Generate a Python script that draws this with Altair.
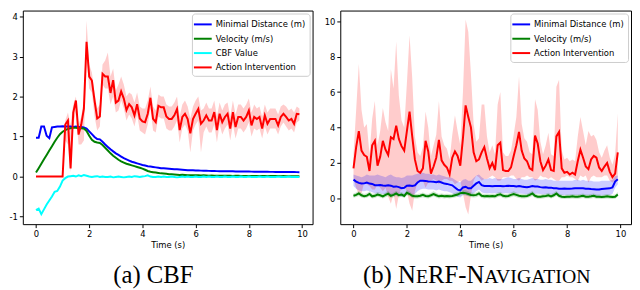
import altair as alt
import numpy as np
import pandas as pd

# ---------------- data ----------------
time = [round(i * 0.1, 1) for i in range(100)]

# (a) CBF
a_dist = [0.97, 0.97, 1.25, 1.25, 1.02, 0.96, 1.23, 1.24, 1.25, 1.25,
          1.26, 1.25, 1.25, 1.25, 1.24, 1.25, 1.24, 1.24, 1.23, 1.20,
          1.13, 1.06, 0.99, 0.94, 0.93, 0.87, 0.80, 0.74, 0.68, 0.63,
          0.58, 0.54, 0.50, 0.46, 0.43, 0.40, 0.37, 0.35, 0.33, 0.31,
          0.29, 0.275, 0.26, 0.25, 0.24, 0.23, 0.22, 0.21, 0.205, 0.20,
          0.195, 0.19, 0.185, 0.18, 0.175, 0.17, 0.165, 0.16, 0.158, 0.155,
          0.152, 0.15, 0.148, 0.146, 0.144, 0.142, 0.14, 0.138, 0.136, 0.135,
          0.134, 0.133, 0.132, 0.131, 0.13, 0.129, 0.128, 0.127, 0.126, 0.125,
          0.124, 0.123, 0.122, 0.121, 0.12, 0.12, 0.119, 0.118, 0.117, 0.117,
          0.116, 0.115, 0.115, 0.114, 0.113, 0.113, 0.112, 0.112, 0.111, 0.11]
a_vel = [0.10, 0.21, 0.32, 0.43, 0.54, 0.65, 0.76, 0.87, 0.97, 1.06,
         1.12, 1.16, 1.19, 1.21, 1.22, 1.22, 1.21, 1.21, 1.20, 1.14,
         1.02, 0.92, 0.87, 0.85, 0.84, 0.79, 0.72, 0.65, 0.58, 0.52,
         0.47, 0.42, 0.38, 0.35, 0.32, 0.30, 0.28, 0.26, 0.24, 0.22,
         0.20, 0.17, 0.14, 0.12, 0.11, 0.10, 0.09, 0.08, 0.075, 0.07,
         0.06, 0.055, 0.05, 0.045, 0.04, 0.045, 0.04, 0.035, 0.03, 0.035,
         0.03, 0.03, 0.025, 0.03, 0.025, 0.02, 0.025, 0.02, 0.02, 0.022,
         0.02, 0.018, 0.02, 0.018, 0.017, 0.02, 0.018, 0.016, 0.017, 0.015,
         0.016, 0.015, 0.014, 0.016, 0.014, 0.013, 0.014, 0.013, 0.012, 0.013,
         0.012, 0.012, 0.011, 0.012, 0.011, 0.01, 0.011, 0.01, 0.01, 0.01]
a_cbf = [-0.84, -0.80, -0.94, -0.82, -0.70, -0.60, -0.50, -0.38, -0.36, -0.25,
         -0.10, -0.04, 0.0, 0.01, 0.02, 0.0, 0.03, 0.01, 0.04, 0.02,
         0.0, -0.01, 0.0, 0.01, -0.01, 0.0, -0.01, -0.01, 0.0, -0.02,
         -0.01, 0.0, -0.01, -0.02, -0.01, 0.0, -0.01, 0.01, 0.0, -0.01,
         0.0, 0.01, 0.03, 0.0, -0.01, -0.01, 0.0, -0.01, 0.0, -0.01,
         -0.01, 0.0, -0.01, -0.02, -0.01, 0.0, -0.01, 0.0, -0.01, -0.01,
         0.0, -0.01, -0.01, 0.0, -0.01, 0.0, -0.01, -0.01, 0.0, -0.01,
         -0.01, 0.0, -0.01, -0.01, 0.0, -0.01, -0.01, 0.0, -0.01, -0.01,
         0.0, -0.01, -0.01, -0.01, 0.0, -0.01, -0.01, 0.0, -0.01, -0.01,
         -0.01, 0.0, -0.01, -0.01, -0.01, 0.0, -0.01, -0.01, -0.01, -0.01]
a_act = [0, 0, 0, 0, 0, 0, 0, 0, 0, 0,
         0, 1.30, 1.40, 0.20, 1.60, 1.90, 1.05, 1.30, 1.70, 3.37,
         2.50, 2.40, 1.90, 1.45, 1.50, 2.57, 2.50, 2.50, 2.09, 2.41,
         1.85, 1.90, 2.13, 1.95, 1.66, 1.81, 1.73, 1.53, 1.81, 1.45,
         1.38, 1.36, 1.57, 1.97, 1.44, 1.36, 1.77, 1.73, 1.73, 1.50,
         1.44, 1.44, 1.53, 1.69, 1.16, 1.49, 1.57, 1.44, 1.08, 1.44,
         1.57, 1.69, 1.32, 1.40, 1.53, 1.40, 1.40, 1.61, 1.16, 1.57,
         1.36, 1.49, 1.57, 1.20, 1.61, 1.24, 1.49, 1.49, 1.40, 1.49,
         1.65, 1.28, 1.49, 1.44, 1.49, 1.20, 1.53, 1.32, 1.44, 1.44,
         1.44, 1.28, 1.49, 1.57, 1.49, 1.40, 1.44, 1.32, 1.57, 1.56]
a_act_hi = [0, 0, 0, 0, 0, 0, 0, 0, 0, 0,
            0, 1.40, 1.60, 1.30, 1.80, 2.00, 1.30, 1.50, 1.90, 3.90,
            2.80, 2.60, 2.10, 1.70, 1.80, 2.80, 2.90, 3.10, 2.50, 2.70,
            2.15, 2.30, 2.50, 2.30, 2.00, 2.10, 2.05, 1.85, 2.10, 1.75,
            1.70, 1.70, 1.90, 2.25, 1.75, 1.65, 2.05, 2.00, 2.00, 1.80,
            1.75, 1.75, 1.85, 2.00, 1.50, 1.80, 1.90, 1.75, 1.45, 1.75,
            1.90, 2.00, 1.65, 1.70, 1.85, 1.70, 1.70, 1.90, 1.50, 1.85,
            1.65, 1.80, 1.85, 1.50, 1.90, 1.55, 1.80, 1.80, 1.70, 1.80,
            1.95, 1.60, 1.80, 1.70, 1.75, 1.50, 1.80, 1.60, 1.70, 1.70,
            1.70, 1.55, 1.75, 1.80, 1.75, 1.65, 1.70, 1.60, 1.75, 1.70]
a_act_lo = [0, 0, 0, 0, 0, 0, 0, 0, 0, 0,
            0, 0.90, 0.80, 0.10, 1.30, 1.60, 0.80, 0.80, 0.90, 3.00,
            2.20, 2.10, 1.50, 1.15, 1.25, 2.30, 2.20, 2.20, 1.80, 2.00,
            1.60, 1.65, 1.90, 1.70, 1.40, 1.55, 1.45, 1.25, 1.55, 1.15,
            1.10, 1.05, 1.30, 1.70, 1.15, 1.10, 1.50, 1.45, 1.45, 1.20,
            1.15, 1.15, 1.25, 1.40, 0.85, 1.20, 1.30, 1.15, 0.60, 1.15,
            1.30, 1.40, 0.60, 1.10, 1.25, 1.10, 1.10, 1.30, 0.85, 1.30,
            1.05, 1.20, 1.30, 0.90, 1.30, 0.95, 1.20, 1.20, 1.10, 1.20,
            1.35, 1.00, 1.20, 1.15, 1.20, 0.95, 1.25, 1.05, 1.20, 1.20,
            1.20, 1.05, 1.25, 1.35, 1.25, 1.15, 1.20, 1.10, 1.35, 1.40]

# (b) NeRF-Navigation
b_dist = [1.06, 0.95, 0.88, 0.84, 0.85, 0.90, 0.84, 0.82, 0.75, 0.74,
          0.76, 0.73, 0.72, 0.74, 0.72, 0.66, 0.68, 0.64, 0.58, 0.60,
          0.72, 0.73, 0.70, 0.74, 0.90, 1.00, 1.00, 0.99, 0.96, 0.95,
          0.94, 0.92, 0.95, 0.90, 0.84, 0.82, 0.78, 0.74, 0.62, 0.50,
          0.45, 0.62, 0.66, 0.57, 0.58, 0.72, 0.85, 0.93, 0.75, 0.70,
          0.70, 0.70, 0.69, 0.70, 0.70, 0.70, 0.69, 0.70, 0.72, 0.70,
          0.70, 0.68, 0.70, 0.67, 0.65, 0.63, 0.66, 0.70, 0.68, 0.67,
          0.64, 0.62, 0.63, 0.60, 0.61, 0.58, 0.57, 0.55, 0.55, 0.56,
          0.55, 0.55, 0.56, 0.58, 0.58, 0.57, 0.58, 0.55, 0.55, 0.53,
          0.52, 0.50, 0.50, 0.53, 0.55, 0.56, 0.57, 0.62, 0.95, 1.08]
b_dist_hi = [1.35, 1.30, 1.25, 1.20, 1.25, 1.35, 1.30, 1.30, 1.30, 1.35,
             1.30, 1.25, 1.20, 1.30, 1.35, 1.25, 1.20, 1.20, 1.15, 1.20,
             1.30, 1.30, 1.30, 1.35, 1.40, 1.45, 1.45, 1.40, 1.40, 1.35,
             1.35, 1.30, 1.35, 1.30, 1.25, 1.20, 1.20, 1.15, 1.05, 0.95,
             0.90, 1.05, 1.10, 1.00, 1.00, 1.15, 1.30, 1.35, 1.20, 1.10,
             1.10, 1.15, 1.10, 1.15, 1.10, 1.10, 1.10, 1.15, 1.20, 1.15,
             1.10, 1.10, 1.15, 1.10, 1.05, 1.05, 1.10, 1.15, 1.10, 1.10,
             1.05, 1.05, 1.10, 1.05, 1.05, 1.00, 1.00, 1.00, 1.00, 1.00,
             1.00, 1.00, 1.00, 1.05, 1.05, 1.00, 1.05, 1.00, 1.00, 1.00,
             0.95, 0.95, 0.95, 1.00, 1.00, 1.00, 1.00, 1.05, 1.25, 1.30]
b_dist_lo = [0.70, 0.55, 0.45, 0.40, 0.40, 0.45, 0.40, 0.35, 0.30, 0.25,
             0.30, 0.25, 0.25, 0.25, 0.20, 0.15, 0.20, 0.15, 0.10, 0.15,
             0.25, 0.25, 0.20, 0.25, 0.40, 0.50, 0.55, 0.55, 0.50, 0.50,
             0.50, 0.45, 0.50, 0.45, 0.40, 0.40, 0.35, 0.30, 0.20, 0.10,
             0.05, 0.20, 0.20, 0.15, 0.15, 0.30, 0.40, 0.50, 0.35, 0.30,
             0.30, 0.30, 0.30, 0.30, 0.30, 0.30, 0.30, 0.30, 0.30, 0.30,
             0.30, 0.28, 0.30, 0.27, 0.25, 0.23, 0.25, 0.28, 0.27, 0.26,
             0.25, 0.23, 0.24, 0.22, 0.22, 0.20, 0.20, 0.18, 0.18, 0.19,
             0.18, 0.18, 0.19, 0.20, 0.20, 0.20, 0.20, 0.18, 0.18, 0.17,
             0.16, 0.15, 0.15, 0.17, 0.18, 0.19, 0.20, 0.25, 0.60, 0.80]
b_vel = [0.15, 0.20, 0.28, 0.18, 0.12, 0.16, 0.25, 0.12, 0.15, 0.22,
         0.18, 0.12, 0.20, 0.27, 0.15, 0.20, 0.28, 0.18, 0.22, 0.14,
         0.32, 0.25, 0.15, 0.12, 0.12, 0.15, 0.20, 0.14, 0.12, 0.18,
         0.25, 0.18, 0.12, 0.15, 0.12, 0.14, 0.12, 0.14, 0.18, 0.22,
         0.30, 0.32, 0.30, 0.25, 0.20, 0.18, 0.20, 0.28, 0.15, 0.12,
         0.14, 0.12, 0.14, 0.12, 0.20, 0.24, 0.15, 0.12, 0.14, 0.20,
         0.25, 0.20, 0.15, 0.12, 0.12, 0.14, 0.20, 0.28, 0.15, 0.10,
         0.10, 0.12, 0.14, 0.18, 0.12, 0.18, 0.28, 0.15, 0.10, 0.08,
         0.10, 0.10, 0.12, 0.10, 0.10, 0.12, 0.15, 0.10, 0.10, 0.12,
         0.15, 0.10, 0.10, 0.08, 0.10, 0.12, 0.10, 0.08, 0.10, 0.22]
b_vel_hi = [0.28, 0.34, 0.42, 0.32, 0.25, 0.30, 0.40, 0.26, 0.28, 0.36,
            0.32, 0.25, 0.34, 0.42, 0.28, 0.34, 0.44, 0.32, 0.36, 0.27,
            0.48, 0.40, 0.28, 0.25, 0.25, 0.28, 0.34, 0.27, 0.25, 0.32,
            0.40, 0.32, 0.25, 0.28, 0.25, 0.27, 0.25, 0.27, 0.32, 0.36,
            0.46, 0.48, 0.46, 0.40, 0.34, 0.32, 0.34, 0.44, 0.28, 0.25,
            0.27, 0.25, 0.27, 0.25, 0.34, 0.38, 0.28, 0.25, 0.27, 0.34,
            0.40, 0.34, 0.28, 0.25, 0.25, 0.27, 0.34, 0.44, 0.28, 0.22,
            0.22, 0.25, 0.27, 0.32, 0.25, 0.32, 0.44, 0.28, 0.22, 0.20,
            0.22, 0.22, 0.25, 0.22, 0.22, 0.25, 0.28, 0.22, 0.22, 0.25,
            0.28, 0.22, 0.22, 0.20, 0.22, 0.25, 0.22, 0.20, 0.22, 0.36]
b_vel_lo = [0.04, 0.08, 0.14, 0.06, 0.01, 0.04, 0.12, 0.00, 0.03, 0.09,
            0.06, 0.00, 0.07, 0.13, 0.03, 0.07, 0.14, 0.05, 0.09, 0.02,
            0.18, 0.12, 0.03, 0.00, 0.00, 0.03, 0.07, 0.02, 0.00, 0.05,
            0.12, 0.05, 0.00, 0.03, 0.00, 0.02, 0.00, 0.02, 0.05, 0.09,
            0.16, 0.18, 0.16, 0.12, 0.07, 0.05, 0.07, 0.14, 0.03, 0.00,
            0.02, 0.00, 0.02, 0.00, 0.07, 0.11, 0.03, 0.00, 0.02, 0.07,
            0.12, 0.07, 0.03, 0.00, 0.00, 0.02, 0.07, 0.14, 0.03, -0.01,
            -0.01, 0.00, 0.02, 0.05, 0.00, 0.05, 0.14, 0.03, -0.01, -0.03,
            -0.01, -0.01, 0.00, -0.01, -0.01, 0.00, 0.03, -0.01, -0.01, 0.00,
            0.03, -0.01, -0.01, -0.03, -0.01, 0.00, -0.01, -0.03, -0.01, 0.09]
b_act = [1.70, 2.90, 3.80, 2.70, 2.45, 2.35, 1.55, 3.00, 3.25, 1.85,
         2.35, 3.25, 2.75, 2.45, 3.45, 3.35, 4.10, 3.35, 2.95, 2.70,
         3.80, 4.90, 3.50, 2.20, 1.55, 1.45, 1.70, 3.25, 2.65, 1.40,
         1.80, 2.30, 3.30, 2.15, 1.90, 1.75, 1.35, 2.30, 2.65, 2.40,
         1.85, 3.40, 5.25, 4.60, 4.00, 2.60, 2.10, 2.20, 2.60, 2.90,
         2.25, 1.70, 2.00, 1.60, 3.00, 3.15, 1.60, 1.55, 1.55, 1.75,
         2.40, 3.00, 3.75, 2.70, 2.25, 2.10, 1.70, 1.60, 3.55, 3.10,
         2.10, 1.60, 1.85, 2.20, 1.60, 1.55, 3.50, 3.75, 1.70, 1.45,
         1.50, 1.35, 1.45, 1.35, 2.10, 2.75, 2.30, 1.80, 1.65, 2.20,
         2.40, 2.30, 1.75, 1.55, 1.80, 2.00, 1.50, 1.20, 1.40, 2.60]
b_act_hi = [2.5, 5.0, 7.6, 5.0, 4.0, 4.2, 2.5, 4.5, 5.5, 3.0,
            3.8, 5.1, 4.3, 3.8, 7.3, 6.2, 8.85, 5.8, 4.4, 4.0,
            6.5, 9.2, 6.8, 3.5, 2.6, 2.4, 2.9, 4.9, 4.0, 2.4,
            3.0, 3.6, 5.5, 3.5, 3.0, 2.8, 2.2, 3.6, 4.7, 3.8,
            3.0, 6.0, 10.1, 9.4, 7.0, 4.2, 3.2, 3.4, 5.3, 5.3,
            3.5, 2.6, 3.0, 2.5, 5.3, 6.0, 2.6, 2.4, 2.4, 2.7,
            3.6, 4.6, 6.9, 4.2, 3.4, 3.2, 2.6, 2.5, 5.6, 5.0,
            3.2, 2.5, 3.0, 3.7, 2.5, 2.4, 6.3, 6.7, 2.7, 2.2,
            2.3, 2.1, 2.2, 2.1, 3.5, 4.6, 3.8, 3.0, 3.8, 3.5,
            3.6, 3.3, 2.6, 2.3, 2.7, 3.0, 2.3, 1.9, 2.5, 4.8]
b_act_lo = [1.1, 0.6, 0.2, 0.3, 0.9, 0.8, 0.7, 0.5, 0.5, 0.8,
            0.6, 0.4, 0.6, 0.1, -0.3, 0.3, -0.6, 0.2, 0.6, 0.7,
            0.4, -0.3, -0.7, 0.4, 0.9, 1.0, 1.0, 0.6, 0.9, 1.0,
            1.1, 1.0, 0.8, 1.0, 1.1, 1.1, 1.0, 1.0, 0.8, 0.9,
            1.0, 0.3, -0.5, -0.9, 0.2, 1.0, 1.3, 1.2, 1.0, 1.1,
            1.1, 1.2, 1.3, 1.2, 1.0, 1.0, 1.2, 1.2, 1.2, 1.3,
            1.3, 1.1, 1.0, 1.2, 1.2, 1.3, 1.2, 1.2, 1.0, 1.1,
            1.3, 1.2, 1.2, 1.1, 1.2, 1.1, 1.0, 1.0, 1.2, 1.2,
            1.3, 1.2, 1.2, 1.1, 1.0, 1.3, 1.2, 1.3, 0.9, 1.2,
            1.3, 1.2, 1.2, 1.2, 1.3, 1.3, 1.0, 0.9, 1.0, 1.2]

x_ticks = [0, 2, 4, 6, 8, 10]
a_y_ticks = [-1, 0, 1, 2, 3, 4]
b_y_ticks = [0, 2, 4, 6, 8, 10]

a_series = ["Minimal Distance (m)", "Velocity (m/s)", "CBF Value", "Action Intervention"]
a_colors = ["#0000ff", "#008000", "#00ffff", "#ff0000"]
b_series = ["Minimal Distance (m)", "Velocity (m/s)", "Action Intervention"]
b_colors = ["#0000ff", "#008000", "#ff0000"]

# ---------------- tables ----------------
def long_table(series_names, arrays):
    frames = []
    for k, (name, arr) in enumerate(zip(series_names, arrays)):
        frames.append(pd.DataFrame({"t": time, "v": arr, "s": name, "o": k}))
    return pd.concat(frames, ignore_index=True)

a_lines = long_table(a_series, [a_dist, a_vel, a_cbf, a_act])
b_lines = long_table(b_series, [b_dist, b_vel, b_act])

a_band = pd.DataFrame({"t": time, "lo": a_act_lo, "hi": a_act_hi})
b_band_act = pd.DataFrame({"t": time, "lo": b_act_lo, "hi": b_act_hi})
b_band_dist = pd.DataFrame({"t": time, "lo": b_dist_lo, "hi": b_dist_hi})
b_band_vel = pd.DataFrame({"t": time, "lo": b_vel_lo, "hi": b_vel_hi})

W_A, W_B, H = 293, 294, 216
XDOM = [-0.495, 10.395]

def legend():
    return alt.Legend(title=None, orient="top-right", offset=3,
                      symbolType="M-1.5,0H1.5", symbolSize=144, symbolStrokeWidth=2,
                      labelFont="DejaVu Sans", labelFontSize=8.5, labelColor="black",
                      labelOffset=6, rowPadding=2.5,
                      fillColor="rgba(255,255,255,0.85)", strokeColor="#cccccc",
                      cornerRadius=3, padding=4)

def x_enc():
    return alt.X("t:Q", scale=alt.Scale(domain=XDOM, nice=False, zero=False),
                 axis=alt.Axis(values=x_ticks, format="d", title="Time (s)", titlePadding=3))

def band(df, color, ydom):
    return alt.Chart(df).mark_area(color=color, opacity=0.2, strokeWidth=0).encode(
        x=alt.X("t:Q", scale=alt.Scale(domain=XDOM, nice=False, zero=False)),
        y=alt.Y("lo:Q", scale=alt.Scale(domain=ydom, nice=False, zero=False)),
        y2="hi:Q",
    )

def lines(df, names, colors, ydom, yticks):
    return alt.Chart(df).mark_line(strokeWidth=2, clip=True).encode(
        x=x_enc(),
        y=alt.Y("v:Q", scale=alt.Scale(domain=ydom, nice=False, zero=False),
                axis=alt.Axis(values=yticks, format="d", title=None,
                              labelExpr="replace(datum.label, '\u2212', '-')")),
        color=alt.Color("s:N", scale=alt.Scale(domain=names, range=colors), legend=legend()),
        order="o:Q",
        detail="s:N",
    )

def cap(text, x, size, align="left"):
    return alt.Chart(pd.DataFrame({"c": [text]})).mark_text(
        font="Liberation Serif", fontSize=size, align=align, baseline="alphabetic",
        color="black").encode(text="c:N", x=alt.value(x), y=alt.value(275))

A_YDOM = [-1.19, 4.15]
B_YDOM = [-1.45, 10.6]

panel_a = alt.layer(
    band(a_band, "#ff0000", A_YDOM),
    lines(a_lines, a_series, a_colors, A_YDOM, a_y_ticks),
    cap("(a) CBF", 132, 25, "center"),
).properties(width=W_A, height=H)

panel_b = alt.layer(
    band(b_band_act, "#ff0000", B_YDOM),
    band(b_band_dist, "#0000ff", B_YDOM),
    band(b_band_vel, "#008000", B_YDOM),
    lines(b_lines, b_series, b_colors, B_YDOM, b_y_ticks),
    cap("(b) N", 23, 25),
    cap("E", 76.5, 20),
    cap("RF-N", 88.7, 25),
    cap("AVIGATION", 145.7, 20),
).properties(width=W_B, height=H)

chart = alt.hconcat(panel_a, panel_b, spacing=10).resolve_scale(
    color="independent", x="independent", y="independent"
).properties(padding={"left": 0, "top": 0, "right": 0, "bottom": 0}).configure_view(
    stroke="black", strokeWidth=1
).configure_axis(
    domain=False, grid=False, tickColor="black", tickSize=3.5, tickWidth=1,
    labelFont="DejaVu Sans", labelFontSize=8.5, labelColor="black", labelPadding=2,
    titleFont="DejaVu Sans", titleFontSize=8.5, titleFontWeight="normal", titleColor="black",
)

chart.save("out.html", embed_options={"renderer": "svg", "actions": False})
